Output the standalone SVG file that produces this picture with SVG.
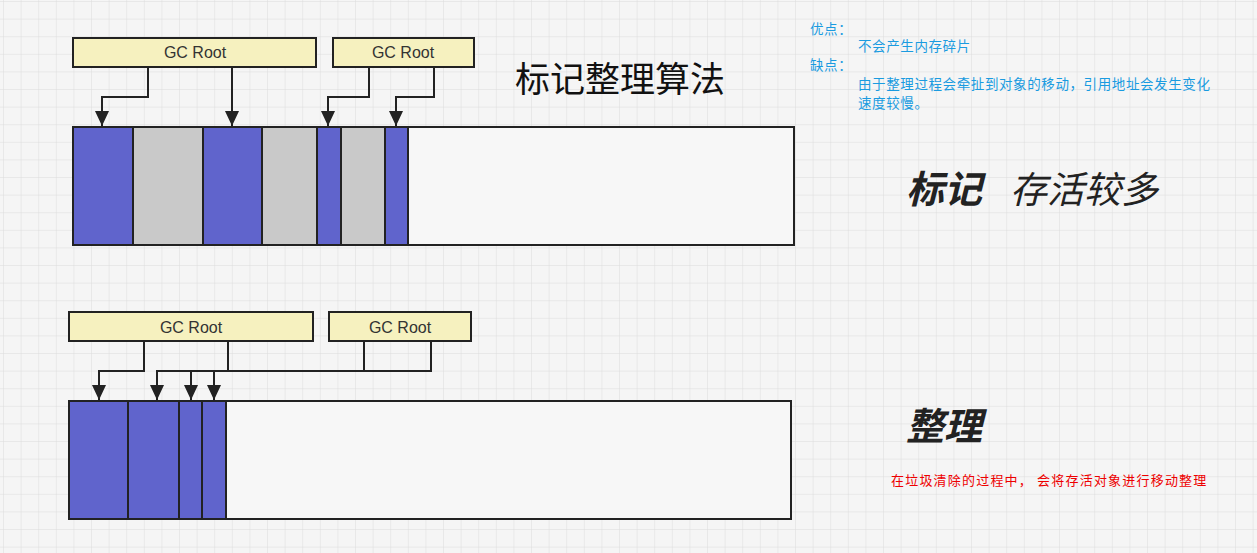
<svg xmlns="http://www.w3.org/2000/svg" width="1257" height="553" viewBox="0 0 1257 553">
<defs>
<pattern id="g" width="17.6" height="17.6" patternUnits="userSpaceOnUse" x="4" y="2"><path d="M17.6 0V17.6H0" fill="none" stroke="#dcdcdc" stroke-width="1"/></pattern>
<marker id="a" markerWidth="15" markerHeight="14" refX="15" refY="7" orient="auto" markerUnits="userSpaceOnUse" viewBox="0 0 15 14"><path d="M0 0L15 7L0 14Z" fill="#222"/></marker>
</defs>
<style>
.root{fill:#f6f1bf;stroke:#222;stroke-width:2}
.rt{font:16px "Liberation Sans","Noto Sans CJK SC",sans-serif;fill:#333;text-anchor:middle}
.live{fill:#6064cc;stroke:#222;stroke-width:2}
.dead{fill:#c9c9c9;stroke:#222;stroke-width:2}
.free{fill:#f7f7f7;stroke:#222;stroke-width:2}
.c{fill:none;stroke:#222;stroke-width:2}
.blue{font:13.5px "Noto Sans CJK SC",sans-serif;fill:#1a9be0;letter-spacing:0.6px}
</style>
<rect width="1257" height="553" fill="#f5f5f5"/>
<rect width="1257" height="553" fill="url(#g)"/>
<g id="bar1">
<rect class="free" x="73" y="127" width="721" height="118"/>
<rect class="live" x="73" y="127" width="60" height="118"/>
<rect class="dead" x="133" y="127" width="70" height="118"/>
<rect class="live" x="203" y="127" width="59" height="118"/>
<rect class="dead" x="262" y="127" width="55" height="118"/>
<rect class="live" x="317" y="127" width="24" height="118"/>
<rect class="dead" x="341" y="127" width="44" height="118"/>
<rect class="live" x="385" y="127" width="23" height="118"/>
</g>
<g id="root1"><rect class="root" x="73" y="38" width="243" height="29"/><text class="rt" x="195" y="58">GC Root</text></g>
<g id="root2"><rect class="root" x="333" y="38" width="141" height="29"/><text class="rt" x="403" y="58">GC Root</text></g>
<g id="bar2">
<rect class="free" x="69" y="401" width="722" height="118"/>
<rect class="live" x="69" y="401" width="59" height="118"/>
<rect class="live" x="128" y="401" width="51" height="118"/>
<rect class="live" x="179" y="401" width="23" height="118"/>
<rect class="live" x="202" y="401" width="24" height="118"/>
</g>
<g id="root3"><rect class="root" x="69" y="312" width="244" height="29"/><text class="rt" x="191" y="333">GC Root</text></g>
<g id="root4"><rect class="root" x="329" y="312" width="142" height="29"/><text class="rt" x="400" y="333">GC Root</text></g>
<g id="connectors">
<path class="c" d="M148 67V97H102V126" marker-end="url(#a)"/>
<path class="c" d="M232 67V126" marker-end="url(#a)"/>
<path class="c" d="M369 67V97H328V126" marker-end="url(#a)"/>
<path class="c" d="M434 67V97H396V126" marker-end="url(#a)"/>
<path class="c" d="M144 341V371H99V400" marker-end="url(#a)"/>
<path class="c" d="M228 341V371"/>
<path class="c" d="M364 341V371"/>
<path class="c" d="M431 341V371H157V400" marker-end="url(#a)"/>
<path class="c" d="M191 371V400" marker-end="url(#a)"/>
<path class="c" d="M214 371V400" marker-end="url(#a)"/>
</g>
<text x="620" y="92" font-family="Noto Sans CJK SC,sans-serif" font-size="35" text-anchor="middle" fill="#111">标记整理算法</text>
<text x="906" y="203" font-family="Noto Sans CJK SC,sans-serif" font-size="38" font-weight="bold" font-style="italic" fill="#222">标记</text>
<text x="1010" y="203" font-family="Noto Sans CJK SC,sans-serif" font-size="37" font-style="italic" fill="#222">存活较多</text>
<text x="906" y="440" font-family="Noto Sans CJK SC,sans-serif" font-size="38" font-weight="bold" font-style="italic" fill="#222">整理</text>
<text x="891" y="485" font-family="Noto Sans CJK SC,sans-serif" font-size="13" fill="#e00" letter-spacing="1.2">在垃圾清除的过程中， 会将存活对象进行移动整理</text>
<text class="blue" x="810" y="34">优点：</text>
<text class="blue" x="858" y="51">不会产生内存碎片</text>
<text class="blue" x="810" y="70">缺点：</text>
<text class="blue" x="858" y="89">由于整理过程会牵扯到对象的移动，引用地址会发生变化</text>
<text class="blue" x="858" y="108">速度较慢。</text>
</svg>
